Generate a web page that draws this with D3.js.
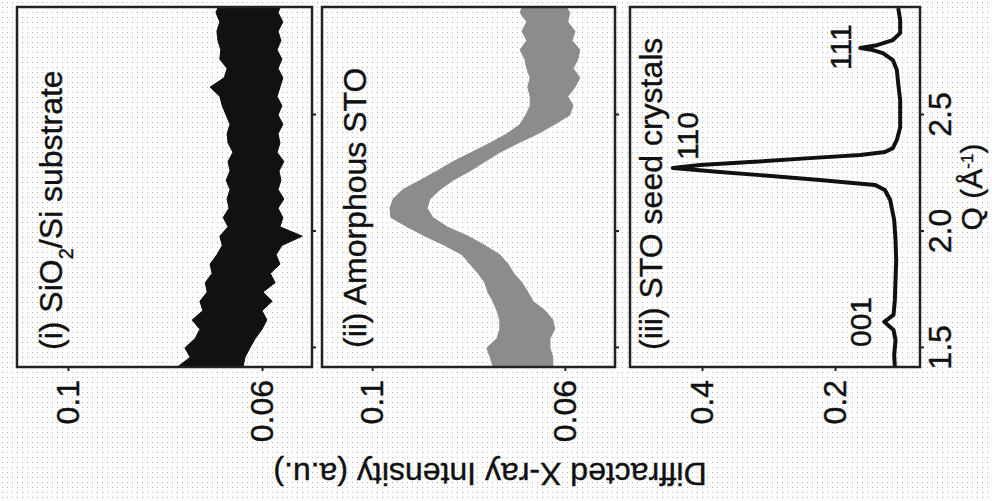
<!DOCTYPE html>
<meta charset="utf-8">
<script src="https://d3js.org/d3.v7.min.js"></script>
<style>
  body { margin: 0; background: #fff; }
  text { font-family: "Liberation Sans", Arial, sans-serif; fill: #111; stroke: #111; stroke-width: 0.4px; }
</style>
<div id="chart"></div>
<script>
// Q grid shared by the two noisy bands (A^-1)
var qGrid = [1.42, 1.46, 1.50, 1.54, 1.58, 1.62, 1.66, 1.70, 1.74, 1.78,
             1.82, 1.86, 1.90, 1.94, 1.98, 2.02, 2.06, 2.10, 2.14, 2.18,
             2.22, 2.26, 2.30, 2.34, 2.38, 2.42, 2.46, 2.50, 2.54, 2.58,
             2.62, 2.66, 2.70, 2.74, 2.78, 2.82, 2.86, 2.90, 2.94, 2.96];

// (i) SiO2/Si substrate: upper / lower edge of the noisy trace
var subHi = [0.0773, 0.0748, 0.0759, 0.0738, 0.0728, 0.0744, 0.0722, 0.0728, 0.0713, 0.0717,
             0.0703, 0.0707, 0.0693, 0.0682, 0.0687, 0.0670, 0.0680, 0.0668, 0.0672, 0.0666,
             0.0674, 0.0666, 0.0670, 0.0660, 0.0670, 0.0672, 0.0666, 0.0674, 0.0682, 0.0687,
             0.0707, 0.0678, 0.0672, 0.0687, 0.0685, 0.0691, 0.0693, 0.0687, 0.0695, 0.0691];
var subLo = [0.0639, 0.0635, 0.0625, 0.0614, 0.0600, 0.0590, 0.0600, 0.0579, 0.0598, 0.0573,
             0.0583, 0.0563, 0.0571, 0.0559, 0.0517, 0.0563, 0.0557, 0.0567, 0.0555, 0.0567,
             0.0561, 0.0565, 0.0555, 0.0569, 0.0563, 0.0567, 0.0557, 0.0567, 0.0559, 0.0569,
             0.0563, 0.0557, 0.0567, 0.0559, 0.0569, 0.0561, 0.0567, 0.0557, 0.0567, 0.0563];

// (ii) Amorphous STO
var amoHi = [0.0749, 0.0755, 0.0762, 0.0741, 0.0735, 0.0735, 0.0741, 0.0749, 0.0760, 0.0766,
             0.0780, 0.0797, 0.0813, 0.0849, 0.0890, 0.0927, 0.0961, 0.0963, 0.0956, 0.0936,
             0.0900, 0.0865, 0.0832, 0.0793, 0.0755, 0.0720, 0.0693, 0.0681, 0.0672, 0.0672,
             0.0677, 0.0672, 0.0679, 0.0683, 0.0693, 0.0679, 0.0689, 0.0679, 0.0693, 0.0689];
var amoLo = [0.0625, 0.0625, 0.0631, 0.0631, 0.0621, 0.0625, 0.0641, 0.0666, 0.0677, 0.0689,
             0.0706, 0.0718, 0.0735, 0.0766, 0.0801, 0.0845, 0.0874, 0.0886, 0.0880, 0.0859,
             0.0832, 0.0797, 0.0766, 0.0735, 0.0697, 0.0656, 0.0621, 0.0590, 0.0583, 0.0594,
             0.0579, 0.0569, 0.0583, 0.0573, 0.0569, 0.0585, 0.0579, 0.0594, 0.0590, 0.0596];

// (iii) STO seed crystals
var seedQ = [1.418, 1.470, 1.534, 1.577, 1.612, 1.642, 1.706, 1.792, 1.878, 1.964,
             2.049, 2.135, 2.178, 2.200, 2.221, 2.242, 2.255, 2.273, 2.285, 2.298,
             2.315, 2.328, 2.341, 2.358, 2.393, 2.448, 2.521, 2.564, 2.637, 2.693,
             2.736, 2.766, 2.779, 2.788, 2.800, 2.822, 2.852, 2.908, 2.959];
var seedI = [0.110, 0.111, 0.109, 0.112, 0.126, 0.112, 0.110, 0.109, 0.108, 0.109,
             0.111, 0.117, 0.125, 0.140, 0.223, 0.313, 0.373, 0.444, 0.403, 0.328,
             0.238, 0.162, 0.125, 0.113, 0.107, 0.102, 0.102, 0.102, 0.105, 0.107,
             0.113, 0.128, 0.143, 0.162, 0.137, 0.113, 0.102, 0.102, 0.105];

var qTicks = [1.5, 2.0, 2.5];
var qTickLabels = ["1.5", "2.0", "2.5"];
var lowTicks = [0.06, 0.1];
var lowTickLabels = ["0.06", "0.1"];
var seedTicks = [0.2, 0.4];
var seedTickLabels = ["0.2", "0.4"];

var peakNames = ["001", "110", "111"];

// page is drawn in the un-rotated frame and then turned a quarter turn
var W = 992, H = 501;
var svg = d3.select("#chart").append("svg")
    .attr("width", W)
    .attr("height", H);

var defs = svg.append("defs");
var pat = defs.append("pattern")
    .attr("id", "dots")
    .attr("width", 5).attr("height", 5)
    .attr("patternUnits", "userSpaceOnUse");
pat.append("rect").attr("x", 2).attr("y", 2).attr("width", 1).attr("height", 1).attr("fill", "#b4b4b4");

svg.append("rect").attr("width", W).attr("height", H).attr("fill", "#fff");
svg.append("rect").attr("width", W).attr("height", H).attr("fill", "url(#dots)");

var g = svg.append("g")
    .attr("transform", "translate(0," + H + ") rotate(-90)");

var x = d3.scaleLinear().domain([1.418, 2.964]).range([134, 494]);

var panels = [
  {top: 17,  bottom: 312, domain: [0.0497, 0.1105], ticks: lowTicks,  labels: lowTickLabels},
  {top: 322, bottom: 615, domain: [0.0496, 0.1104], ticks: lowTicks,  labels: lowTickLabels},
  {top: 630, bottom: 920, domain: [0.0722, 0.5083], ticks: seedTicks, labels: seedTickLabels}
];

panels.forEach(function(p, i) {
  p.y = d3.scaleLinear().domain(p.domain).range([p.bottom, p.top]);

  defs.append("clipPath").attr("id", "clip" + i)
    .append("rect")
      .attr("x", x.range()[0]).attr("y", p.top)
      .attr("width", x.range()[1] - x.range()[0])
      .attr("height", p.bottom - p.top);

  // y axis
  var ya = g.append("g")
      .attr("transform", "translate(" + x.range()[0] + ",0)")
      .call(d3.axisLeft(p.y).tickValues(p.ticks)
        .tickFormat(function(d, k) { return p.labels[k]; })
        .tickSize(4).tickPadding(9));
  ya.select(".domain").remove();
  ya.selectAll("line").attr("stroke", "#222").attr("stroke-width", 2);
  ya.selectAll("text").style("font-size", "32px").attr("fill", "#111");

  // Q ticks under every panel, labels only on the last one
  var xa = g.append("g")
      .attr("transform", "translate(0," + p.bottom + ")")
      .call(d3.axisBottom(x).tickValues(qTicks)
        .tickFormat(function(d, k) { return i === 2 ? qTickLabels[k] : ""; })
        .tickSize(4).tickPadding(4));
  xa.select(".domain").remove();
  xa.selectAll("line").attr("stroke", "#222").attr("stroke-width", 2);
  xa.selectAll("text").style("font-size", "32px").attr("fill", "#111");
});

// bands
var bandData = function(hi, lo) {
  return qGrid.map(function(q, k) { return {q: q, hi: hi[k], lo: lo[k]}; });
};
var area = function(p) {
  return d3.area()
    .x(function(d) { return x(d.q); })
    .y0(function(d) { return p.y(d.lo); })
    .y1(function(d) { return p.y(d.hi); });
};

g.append("path")
  .datum(bandData(subHi, subLo))
  .attr("clip-path", "url(#clip0)")
  .attr("fill", "#111")
  .attr("stroke", "#111").attr("stroke-width", 1)
  .attr("d", area(panels[0]));

g.append("path")
  .datum(bandData(amoHi, amoLo))
  .attr("clip-path", "url(#clip1)")
  .attr("fill", "#8c8c8c")
  .attr("stroke", "#8c8c8c").attr("stroke-width", 1)
  .attr("d", area(panels[1]));

var seed = seedQ.map(function(q, k) { return {q: q, v: seedI[k]}; });
g.append("path")
  .datum(seed)
  .attr("clip-path", "url(#clip2)")
  .attr("fill", "none")
  .attr("stroke", "#111").attr("stroke-width", 4)
  .attr("stroke-linejoin", "round")
  .attr("d", d3.line()
    .x(function(d) { return x(d.q); })
    .y(function(d) { return panels[2].y(d.v); }));

// frames
panels.forEach(function(p) {
  g.append("rect")
    .attr("x", x.range()[0]).attr("y", p.top)
    .attr("width", x.range()[1] - x.range()[0])
    .attr("height", p.bottom - p.top)
    .attr("fill", "none")
    .attr("stroke", "#222").attr("stroke-width", 2.5);
});

// panel titles
var t1 = g.append("text").attr("x", 151).attr("y", 62).style("font-size", "32px");
t1.append("tspan").text("(i) SiO");
t1.append("tspan").text("2").attr("baseline-shift", "sub").style("font-size", "20px");
t1.append("tspan").text("/Si substrate");

g.append("text").attr("x", 153).attr("y", 366).style("font-size", "32px")
  .text("(ii) Amorphous STO");
g.append("text").attr("x", 151).attr("y", 662).style("font-size", "32px")
  .text("(iii) STO seed crystals");

// peak labels
var peakPos = [{x: 154, y: 871}, {x: 341, y: 698}, {x: 431, y: 851}];
g.selectAll(".peak")
  .data(peakNames)
  .enter().append("text")
    .attr("class", "peak")
    .attr("x", function(d, k) { return peakPos[k].x; })
    .attr("y", function(d, k) { return peakPos[k].y; })
    .style("font-size", "30px")
    .text(function(d) { return d; });

// axis titles
var ql = g.append("text")
  .attr("x", (x.range()[0] + x.range()[1]) / 2)
  .attr("y", 982)
  .attr("text-anchor", "middle")
  .style("font-size", "30px");
ql.append("tspan").text("Q (\u00C5");
ql.append("tspan").text("-1").attr("baseline-shift", "super").style("font-size", "17px");
ql.append("tspan").text(")");

g.append("text")
  .attr("transform", "translate(38,490) rotate(-90)")
  .attr("text-anchor", "middle")
  .style("font-size", "32px")
  .text("Diffracted X-ray Intensity (a.u.)");
</script>
